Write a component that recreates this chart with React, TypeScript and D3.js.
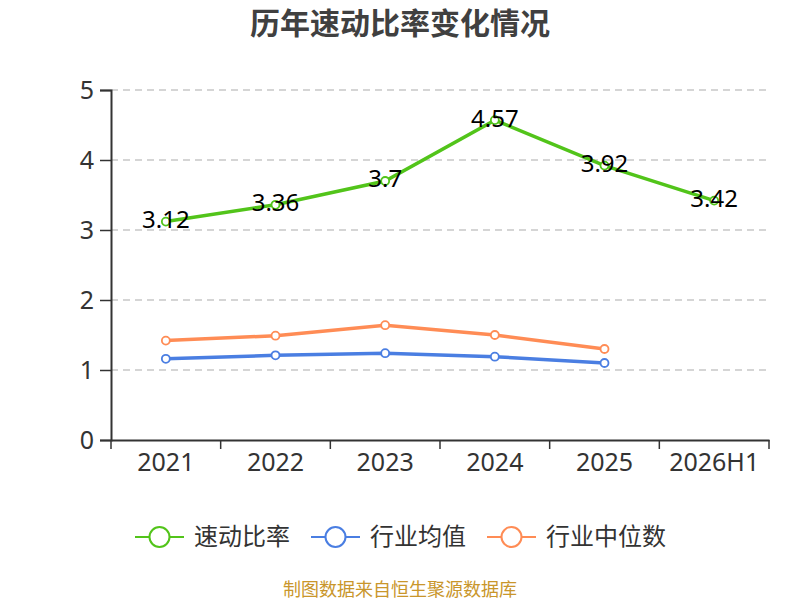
import { useRef, useEffect } from "react";
import * as d3 from "d3";

// Chart data
const years = ["2021", "2022", "2023", "2024", "2025", "2026H1"];
const quickRatio = [3.12, 3.36, 3.7, 4.57, 3.92, 3.42];
const industryMean = [1.16, 1.21, 1.24, 1.19, 1.1];
const industryMedian = [1.42, 1.49, 1.64, 1.5, 1.3];
const yTicks = [0, 1, 2, 3, 4, 5];

const seriesList = [
  { name: "速动比率", values: quickRatio, color: "#52c41a", labels: true },
  { name: "行业均值", values: industryMean, color: "#4a7ee2", labels: false },
  { name: "行业中位数", values: industryMedian, color: "#ff8c55", labels: false },
];

const FONT = "'Noto Sans', 'Noto Sans CJK SC', sans-serif";
const CJK = "'Noto Sans CJK SC', sans-serif";

const App = () => {
  const svgRef = useRef<SVGSVGElement | null>(null);
  const width = 800;
  const height = 600;

  useEffect(() => {
    if (!svgRef.current) return;
    const margin = { top: 90, right: 31, bottom: 160, left: 111 };

    const svg = d3.select(svgRef.current);
    svg.selectAll("*").remove();

    const x = d3
      .scaleBand()
      .domain(years)
      .range([margin.left, width - margin.right]);
    const y = d3
      .scaleLinear()
      .domain([0, 5])
      .range([height - margin.bottom, margin.top]);

    // Title
    svg
      .append("text")
      .attr("x", 400)
      .attr("y", 34)
      .attr("text-anchor", "middle")
      .style("font-family", CJK)
      .style("font-size", "30px")
      .style("font-weight", "bold")
      .style("fill", "#404040")
      .text("历年速动比率变化情况");

    // Grid lines
    svg
      .append("g")
      .selectAll("line")
      .data(yTicks.filter((t) => t > 0))
      .enter()
      .append("line")
      .attr("x1", margin.left)
      .attr("x2", width - margin.right)
      .attr("y1", (d) => y(d))
      .attr("y2", (d) => y(d))
      .attr("stroke", "#c8c8c8")
      .attr("stroke-width", 1.5)
      .attr("stroke-dasharray", "7,5");

    // Y axis
    const yAxis = svg
      .append("g")
      .attr("transform", `translate(${margin.left},0)`)
      .call(
        d3
          .axisLeft(y)
          .tickValues(yTicks)
          .tickFormat(d3.format("d"))
          .tickSize(11)
          .tickPadding(6)
      );
    yAxis.select(".domain").attr("stroke", "#333").attr("stroke-width", 2);
    yAxis.selectAll(".tick line").attr("stroke", "#333").attr("stroke-width", 1.5);
    yAxis
      .selectAll("text")
      .style("font-family", FONT)
      .style("font-size", "25px")
      .style("fill", "#333");

    // X axis
    const xAxis = svg
      .append("g")
      .attr("transform", `translate(0,${height - margin.bottom})`)
      .call(d3.axisBottom(x).tickSize(0).tickPadding(13));
    xAxis.select(".domain").attr("stroke", "#333").attr("stroke-width", 2);
    xAxis
      .selectAll("text")
      .style("font-family", FONT)
      .style("font-size", "25px")
      .style("fill", "#333");

    // band boundary ticks
    const bounds = years.map((d) => x(d) ?? 0).concat([width - margin.right]);
    svg
      .append("g")
      .selectAll("line")
      .data(bounds)
      .enter()
      .append("line")
      .attr("x1", (d) => d)
      .attr("x2", (d) => d)
      .attr("y1", height - margin.bottom)
      .attr("y2", height - margin.bottom + 9)
      .attr("stroke", "#333")
      .attr("stroke-width", 1.5);

    const cx = (i: number) => (x(years[i]) ?? 0) + x.bandwidth() / 2;

    // Lines, points and labels
    seriesList.forEach((s) => {
      const line = d3
        .line<number>()
        .x((_, i) => cx(i))
        .y((d) => y(d));
      svg
        .append("path")
        .datum(s.values)
        .attr("d", line)
        .attr("fill", "none")
        .attr("stroke", s.color)
        .attr("stroke-width", 3.5);
      svg
        .append("g")
        .selectAll("circle")
        .data(s.values)
        .enter()
        .append("circle")
        .attr("cx", (_, i) => cx(i))
        .attr("cy", (d) => y(d))
        .attr("r", 4)
        .attr("fill", "#fff")
        .attr("stroke", s.color)
        .attr("stroke-width", 1.8);
      if (s.labels) {
        svg
          .append("g")
          .selectAll("text")
          .data(s.values)
          .enter()
          .append("text")
          .attr("x", (_, i) => cx(i))
          .attr("y", (d) => y(d) - 2)
          .attr("dy", "0.35em")
          .attr("text-anchor", "middle")
          .style("font-family", FONT)
          .style("font-size", "24px")
          .style("fill", "#000")
          .text((d) => String(d));
      }
    });

    // Legend
    const legendX = [135, 311, 487];
    const legendY = 537;
    seriesList.forEach((s, i) => {
      const g = svg.append("g").attr("transform", `translate(${legendX[i]},${legendY})`);
      g.append("line")
        .attr("x1", 0)
        .attr("x2", 49)
        .attr("y1", 0)
        .attr("y2", 0)
        .attr("stroke", s.color)
        .attr("stroke-width", 2);
      g.append("circle")
        .attr("cx", 24.5)
        .attr("cy", 0)
        .attr("r", 10)
        .attr("fill", "#fff")
        .attr("stroke", s.color)
        .attr("stroke-width", 2);
      g.append("text")
        .attr("x", 59)
        .attr("y", 0)
        .attr("dy", "0.35em")
        .style("font-family", CJK)
        .style("font-size", "24px")
        .style("fill", "#333")
        .text(s.name);
    });

    // Source note
    svg
      .append("text")
      .attr("x", 400)
      .attr("y", 590)
      .attr("dy", "0.35em")
      .attr("text-anchor", "middle")
      .style("font-family", CJK)
      .style("font-size", "18px")
      .style("fill", "#c9962b")
      .text("制图数据来自恒生聚源数据库");
  }, []);

  return (
    <svg
      ref={svgRef}
      width={width}
      height={height}
      style={{ position: "absolute", left: 0, top: 0, background: "#fff" }}
    ></svg>
  );
};

export default App;
